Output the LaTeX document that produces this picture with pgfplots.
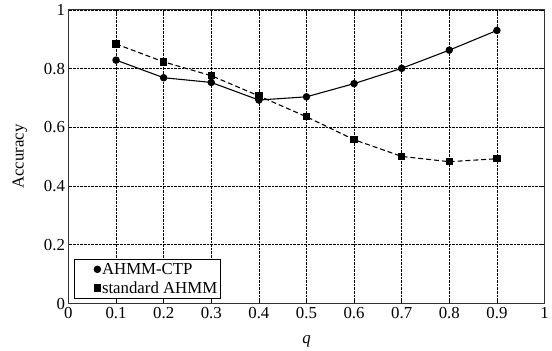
\documentclass[border=0pt]{standalone}
\usepackage{pgfplots}
\pgfplotsset{compat=1.18}
\usepackage{fontspec}
\setmainfont{Liberation Serif}
\usetikzlibrary{calc}
\pgfplotsset{markonly legend/.style={legend image code/.code={\path (0cm,0cm); \draw[##1, only marks] plot coordinates {(0.74cm,0cm)};}}}
\begin{document}
\begin{tikzpicture}
\begin{axis}[
  scale only axis,
  width=480bp, height=296bp,
  xmin=0, xmax=1, ymin=0, ymax=1,
  xtick={0,0.1,...,1}, ytick={0,0.2,...,1},
  xticklabels={0,0.1,0.2,0.3,0.4,0.5,0.6,0.7,0.8,0.9,1},
  yticklabels={0,0.2,0.4,0.6,0.8,1},
  /pgf/number format/assume math mode=true,
  tick label style={font=\fontsize{17}{19}\selectfont},
  label style={font=\fontsize{17}{19}\selectfont},
  grid=major,
  grid style={black, densely dotted, line width=0.7pt},
  axis line style={line width=0.9pt, black!80},
  tick style={black, line width=0.6pt},
  major tick length=4bp,
  tick align=inside,
  xlabel={\textit{q}},
  ylabel={Accuracy},
  xlabel shift=10bp,
  ylabel shift=10bp,
  legend cell align=left,
  legend style={at={(axis description cs:0.011,0.017)}, anchor=south west,
    font=\fontsize{17}{19}\selectfont, draw=black, line width=0.7pt,
    inner xsep=2bp, inner ysep=1.5bp, row sep=2bp,
    nodes={inner xsep=1.5bp}},
]
\addplot[black, solid, line width=1.1pt, mark=*, mark size=3.2bp, markonly legend]
  coordinates {(0.1,0.829)(0.2,0.769)(0.3,0.753)(0.4,0.693)(0.5,0.704)(0.6,0.749)(0.7,0.801)(0.8,0.863)(0.9,0.930)};
\addlegendentry{AHMM-CTP}
\addplot[black, dash pattern=on 5pt off 3pt, line width=1.1pt, mark=square*, mark size=3.2bp, mark options={solid}, markonly legend]
  coordinates {(0.1,0.884)(0.2,0.823)(0.3,0.776)(0.4,0.707)(0.5,0.636)(0.6,0.558)(0.7,0.501)(0.8,0.483)(0.9,0.493)};
\addlegendentry{standard AHMM}
\end{axis}
\useasboundingbox ($(current axis.south west)+(-69bp,-47bp)$) rectangle ($(current axis.south west)+(483bp,306bp)$);
\end{tikzpicture}
\end{document}
